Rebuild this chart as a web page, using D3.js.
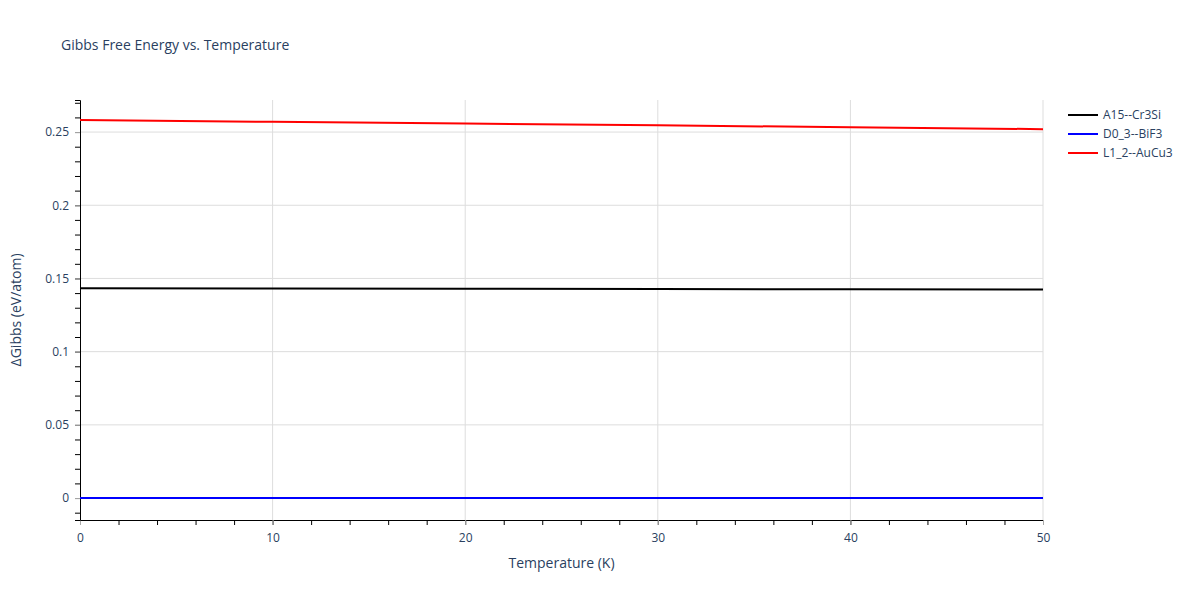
<!DOCTYPE html>
<html><head><meta charset="utf-8">
<script src="https://cdn.jsdelivr.net/npm/d3@7"></script>
<style>body{margin:0;background:#fff}text{font-family:"Open Sans",Arial,sans-serif}</style>
</head><body><div id="chart"></div>
<script>
// data
let temps = [0, 10, 20, 30, 40, 50];
let seriesNames = ["A15--Cr3Si", "D0_3--BiF3", "L1_2--AuCu3"];
let seriesColors = ["#000000", "#0000ff", "#ff0000"];
let a15 = [0.1433, 0.1431, 0.1430, 0.1428, 0.1426, 0.1424];
let d03 = [0, 0, 0, 0, 0, 0];
let l12 = [0.2583, 0.2570, 0.2558, 0.2546, 0.2533, 0.2520];
let yTicks = [0, 0.05, 0.1, 0.15, 0.2, 0.25];
let xTicks = [0, 10, 20, 30, 40, 50];

let margin = { top: 100, bottom: 80, left: 80, right: 157 };
let width = 1200, height = 600;
let viewWidth = width - margin.left - margin.right;
let viewHeight = height - margin.top - margin.bottom;

let svg = d3.select("#chart").append("svg").attr("width", width).attr("height", height);

let x = d3.scaleLinear().domain([0, 50]).range([margin.left, margin.left + viewWidth]);
let y = d3.scaleLinear().domain([-0.0150, 0.2719]).range([margin.top + viewHeight, margin.top]);

// grid
svg.append("g").selectAll("line").data(xTicks.slice(1)).join("line")
    .attr("x1", d => x(d)).attr("x2", d => x(d))
    .attr("y1", margin.top).attr("y2", margin.top + viewHeight)
    .attr("stroke", "#dddddd");
svg.append("g").selectAll("line").data(yTicks).join("line")
    .attr("x1", margin.left).attr("x2", margin.left + viewWidth)
    .attr("y1", d => y(d)).attr("y2", d => y(d))
    .attr("stroke", "#dddddd");

// axes
let xAxis = svg.append("g").attr("transform", `translate(0,${margin.top + viewHeight})`)
    .call(d3.axisBottom(x).tickValues(d3.range(0, 51, 2)).tickSize(5).tickFormat(""));
xAxis.select(".domain").attr("stroke", "#000");
svg.append("g").attr("transform", `translate(0,${margin.top + viewHeight})`)
    .call(d3.axisBottom(x).tickValues(xTicks).tickSize(5).tickPadding(8))
    .call(g => g.select(".domain").remove())
    .call(g => g.selectAll("line").attr("stroke", "#aaa"))
    .call(g => g.selectAll("text").attr("fill", "#2a3f5f").attr("font-size", 12));

let yAxis = svg.append("g").attr("transform", `translate(${margin.left},0)`)
    .call(d3.axisLeft(y).tickValues(d3.range(-0.01, 0.2701, 0.01)).tickSize(5).tickFormat(""));
yAxis.select(".domain").attr("stroke", "#000");
svg.append("g").attr("transform", `translate(${margin.left},0)`)
    .call(d3.axisLeft(y).tickValues(yTicks).tickSize(5).tickPadding(6).tickFormat(d => d3.format("")(+d.toFixed(2))))
    .call(g => g.select(".domain").remove())
    .call(g => g.selectAll("line").attr("stroke", "#aaa"))
    .call(g => g.selectAll("text").attr("fill", "#2a3f5f").attr("font-size", 12));

// lines
let line = d3.line().x((d, i) => x(temps[i])).y(d => y(d));
[a15, d03, l12].forEach((s, i) => {
    svg.append("path").datum(s).attr("d", line).attr("fill", "none")
        .attr("stroke", seriesColors[i]).attr("stroke-width", 2);
});

// titles
svg.append("text").attr("x", 61).attr("y", 50).attr("font-size", 14).attr("fill", "#2a3f5f")
    .text("Gibbs Free Energy vs. Temperature");
svg.append("text").attr("x", x(25)).attr("y", 568).attr("text-anchor", "middle")
    .attr("font-size", 14).attr("fill", "#2a3f5f").text("Temperature (K)");
svg.append("text").attr("transform", `translate(21,${y(0.1285)}) rotate(-90)`)
    .attr("text-anchor", "middle").attr("font-size", 14).attr("fill", "#2a3f5f").text("ΔGibbs (eV/atom)");

// legend
let legend = svg.append("g").attr("transform", "translate(1068,115)");
seriesNames.forEach((n, i) => {
    let g = legend.append("g").attr("transform", `translate(0,${i * 19})`);
    g.append("line").attr("x1", 0).attr("x2", 30).attr("stroke", seriesColors[i]).attr("stroke-width", 2);
    g.append("text").attr("x", 35).attr("y", 4).attr("font-size", 12).attr("fill", "#2a3f5f").text(n);
});
</script></body></html>
